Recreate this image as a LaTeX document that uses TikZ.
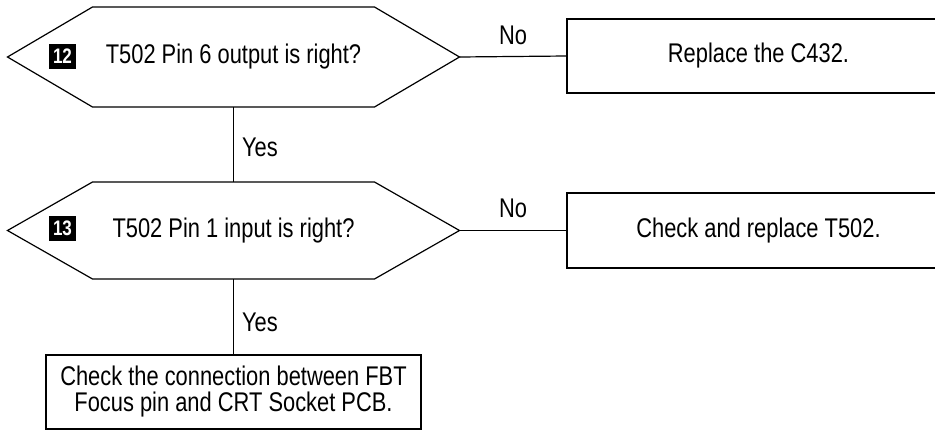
\documentclass[tikz,border=0pt]{standalone}
\usepackage{fontspec}
\setmainfont{Liberation Sans}[FakeStretch=0.81]

\tikzset{
    EMPTY/.style={inner sep=0mm, outer sep=0mm,
        font={\fontsize{27}{32}\selectfont}},
    YES_LABEL/.style={EMPTY, anchor=west},
    DECISION/.style={shape=rectangle, minimum width=452pt, minimum height=100pt,
        inner sep=0mm, outer sep=0mm, font={\fontsize{27}{32}\selectfont}},
    ACTION/.style={shape=rectangle, draw=black, line width=1.2pt,
        minimum width=383pt, minimum height=74pt, inner sep=0mm, align=center,
        font={\fontsize{27}{27}\selectfont}},
    BADGE/.style={shape=rectangle, fill=black, text=white,
        minimum width=27pt, minimum height=25pt,
        inner sep=0mm, font={\fontsize{21}{21}\selectfont\bfseries}},
    EDGE/.style={draw=black, line width=1.2pt}
}
\pgfdeclarelayer{edgelayer}
\pgfdeclarelayer{nodelayer}
\pgfsetlayers{edgelayer,nodelayer,main}

\begin{document}
\begin{tikzpicture}[x=1pt, y=-1pt]
    \useasboundingbox (0, 0) rectangle (935, 431);
    \begin{pgfonlayer}{nodelayer}
        \clip (0, 0) rectangle (935, 431);
        \node [DECISION] (1) at (233.5, 57) {T502 Pin 6 output is right?};
        \node [DECISION, minimum height=97pt] (2) at (233.5, 230.5) {T502 Pin 1 input is right?};
        \node [ACTION] (3) at (758.5, 56) {Replace the C432.};
        \node [ACTION, minimum height=75pt] (4) at (758.5, 230.5) {Check and replace T502.};
        \node [ACTION, minimum width=375pt] (5) at (233.5, 392) {Check the connection between FBT\\[-1pt]Focus pin and CRT Socket PCB.};
        \node [BADGE] (6) at (62.5, 56) {12};
        \node [BADGE] (7) at (62.5, 228) {13};
        \node [EMPTY] (8) at (513, 35) {No};
        \node [EMPTY] (9) at (513, 208) {No};
        \node [YES_LABEL] (10) at (242, 147) {Yes};
        \node [YES_LABEL] (11) at (242, 322) {Yes};
        % hexagon outlines of the two checks
        \draw[EDGE] (1.west) -- ([xshift=85pt]1.north west) -- ([xshift=-85pt]1.north east)
            -- (1.east) -- ([xshift=-85pt]1.south east) -- ([xshift=85pt]1.south west) -- cycle;
        \draw[EDGE] (2.west) -- ([xshift=85pt]2.north west) -- ([xshift=-85pt]2.north east)
            -- (2.east) -- ([xshift=-85pt]2.south east) -- ([xshift=85pt]2.south west) -- cycle;
    \end{pgfonlayer}
    \begin{pgfonlayer}{edgelayer}
        \draw[EDGE] (1.east) to (3.west);
        \draw[EDGE] (1.south) to (2.north);
        \draw[EDGE] (2.east) to (4.west);
        \draw[EDGE] (2.south) to (5.north);
    \end{pgfonlayer}
\end{tikzpicture}
\end{document}
